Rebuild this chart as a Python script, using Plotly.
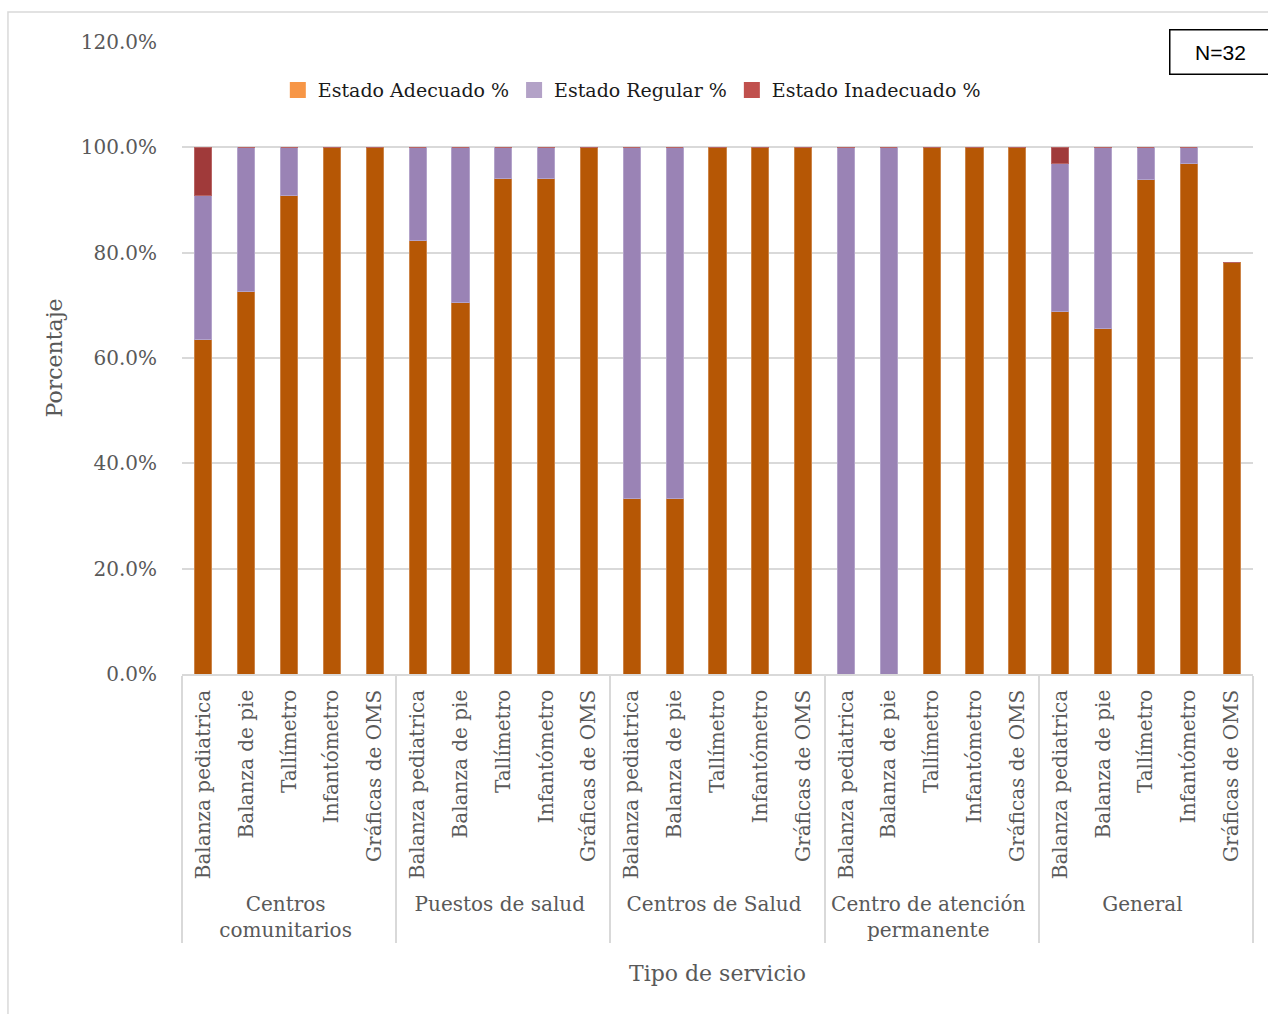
import plotly.graph_objects as go

# Service types and equipment evaluated in each
servicios = ["Centros<br>comunitarios", "Puestos de salud", "Centros de Salud",
             "Centro de atención<br>permanente", "General"]
equipos = ["Balanza pediatrica", "Balanza de pie", "Tallímetro", "Infantómetro", "Gráficas de OMS"]

# Percentages per bar (service order, then equipment order)
adecuado = [63.6, 72.7, 90.9, 100.0, 100.0,
            82.4, 70.6, 94.1, 94.1, 100.0,
            33.3, 33.3, 100.0, 100.0, 100.0,
            0.0, 0.0, 100.0, 100.0, 100.0,
            68.8, 65.6, 93.8, 96.9, 78.1]
regular = [27.3, 27.3, 9.1, 0.0, 0.0,
           17.6, 29.4, 5.9, 5.9, 0.0,
           66.7, 66.7, 0.0, 0.0, 0.0,
           100.0, 100.0, 0.0, 0.0, 0.0,
           28.1, 34.4, 6.2, 3.1, 0.0]
inadecuado = [9.1, 0.0, 0.0, 0.0, 0.0,
              0.0, 0.0, 0.0, 0.0, 0.0,
              0.0, 0.0, 0.0, 0.0, 0.0,
              0.0, 0.0, 0.0, 0.0, 0.0,
              3.1, 0.0, 0.0, 0.0, 0.0]

nombres = ["Estado Adecuado %", "Estado Regular %", "Estado Inadecuado %"]
colores_barra = ["#B65705", "#9A83B5", "#A03A3A"]
bordes_barra = ["#CC8448", "#B3A3CA", "#B86464"]
colores_leyenda = ["#F79646", "#B3A2C7", "#C0504D"]

x_grupo = [s for s in servicios for _ in equipos]
x_equipo = [e for _ in servicios for e in equipos]
n_barras = len(x_equipo)

FONT = "DejaVu Serif"
GRIS = "#595959"

fig = go.Figure()
for serie, color, borde in zip([adecuado, regular, inadecuado], colores_barra, bordes_barra):
    fig.add_trace(go.Bar(
        x=[x_grupo, x_equipo], y=[v / 100 for v in serie],
        marker=dict(color=color, line=dict(color=borde, width=1)),
        showlegend=False, hoverinfo="skip",
    ))
# Legend entries: square swatches, no visible points
for nombre, color in zip(nombres, colores_leyenda):
    fig.add_trace(go.Scatter(x=[[servicios[0]], [equipos[0]]], y=[None], name=nombre,
                             mode="markers",
                             marker=dict(color=color, symbol="square", size=17, line=dict(width=0)),
                             showlegend=True))

fig.update_layout(
    barmode="stack",
    bargap=0.6,
    width=1268, height=1014,
    margin=dict(l=182, r=15, t=42, b=340),
    plot_bgcolor="white", paper_bgcolor="white",
    font=dict(family=FONT, size=20, color=GRIS),
    legend=dict(orientation="h", x=0.42, xanchor="center", y=0.924, yanchor="middle",
                font=dict(family=FONT, size=19, color="#1a1a1a"),
                bgcolor="rgba(0,0,0,0)", traceorder="normal", itemsizing="trace"),
    xaxis=dict(
        range=[-0.5, n_barras - 0.5], autorange=False,
        tickangle=-90, showline=True, linecolor="#D9D9D9", linewidth=1.5,
        showdividers=True, dividercolor="#D9D9D9", dividerwidth=1.5,
        ticks="", ticklabelstandoff=6, tickfont=dict(family=FONT, size=20, color=GRIS),
        title=dict(text="Tipo de servicio", font=dict(family=FONT, size=22, color=GRIS), standoff=24),
    ),
    yaxis=dict(
        range=[0, 1.2], dtick=0.2, tickformat=".1%",
        showgrid=True, gridcolor="#D9D9D9", gridwidth=1.5, zeroline=False,
        tickfont=dict(family=FONT, size=20, color=GRIS), ticks="outside", ticklen=20, tickcolor="white",
        title=dict(text="Porcentaje", font=dict(family=FONT, size=22, color=GRIS), standoff=12),
    ),
    shapes=[dict(type="rect", xref="paper", yref="paper",
                 x0=-0.1625, x1=1.02, y0=-0.54, y1=1.0475,
                 line=dict(color="#D9D9D9", width=1.5), layer="below")],
    annotations=[dict(text="N=32", xref="paper", yref="paper", x=0.922, xanchor="left",
                      y=0.984, yanchor="middle", showarrow=False,
                      font=dict(family="Liberation Sans", size=21, color="black"),
                      bordercolor="black", borderwidth=1.5, borderpad=10,
                      bgcolor="white", width=80)],
)

fig.write_html("out.html")
